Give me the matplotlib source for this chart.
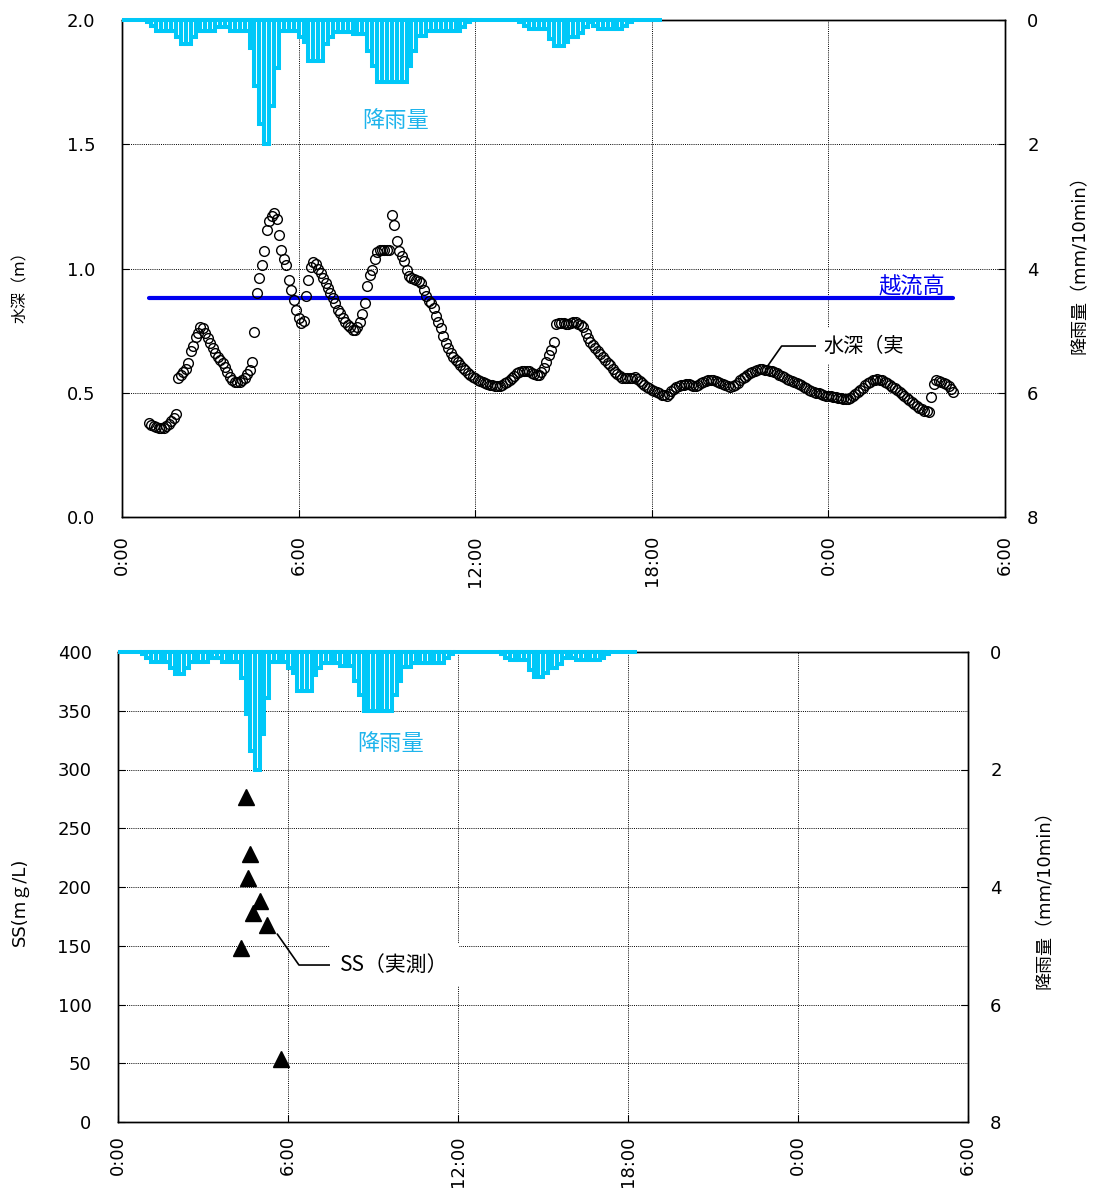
import numpy as np
import matplotlib
matplotlib.use('Agg')
import matplotlib.pyplot as plt

plt.rcParams['font.family'] = ['DejaVu Sans', 'Noto Sans CJK JP']
CJK = ['Noto Sans CJK JP', 'DejaVu Sans']

# ---------------- data ----------------
# rainfall (mm/10min), 10-minute bins starting at 0:00
rain = [0, 0, 0, 0, 0, 0.04, 0.1, 0.17, 0.17, 0.17,
        0.17, 0.28, 0.38, 0.38, 0.28, 0.17, 0.17, 0.17, 0.17, 0.11,
        0.11, 0.11, 0.17, 0.17, 0.17, 0.17, 0.45, 1.06, 1.68, 2.0,
        1.39, 0.78, 0.17, 0.17, 0.17, 0.17, 0.28, 0.35, 0.66, 0.66,
        0.66, 0.39, 0.28, 0.19, 0.19, 0.19, 0.19, 0.23, 0.23, 0.23,
        0.5, 0.74, 1.0, 1.0, 1.0, 1.0, 1.0, 1.0, 0.74, 0.5,
        0.26, 0.26, 0.18, 0.18, 0.18, 0.18, 0.18, 0.18, 0.18, 0.11,
        0.04, 0, 0, 0, 0, 0, 0, 0, 0, 0,
        0, 0.04, 0.1, 0.14, 0.14, 0.14, 0.14, 0.3, 0.42, 0.42,
        0.36, 0.28, 0.28, 0.21, 0.11, 0.04, 0.1, 0.14, 0.14, 0.14,
        0.14, 0.14, 0.1, 0.04, 0, 0, 0, 0, 0, 0]
rain_bin_min = 10

# measured water depth (m), every 5 minutes starting 0:55
depth_start_min = 55
depth = [
    0.378,
    0.372, 0.366, 0.362, 0.358, 0.357, 0.36, 0.367, 0.375, 0.386, 0.40, 0.415, 0.56,
    0.57, 0.585, 0.595, 0.62, 0.67, 0.69, 0.725, 0.74, 0.765, 0.76, 0.74, 0.72,
    0.70, 0.68, 0.66, 0.645, 0.63, 0.62, 0.605, 0.585, 0.565, 0.55, 0.545, 0.545,
    0.545, 0.55, 0.56, 0.575, 0.59, 0.625, 0.745, 0.90, 0.96, 1.015, 1.07, 1.155,
    1.19, 1.21, 1.225, 1.20, 1.135, 1.075, 1.04, 1.015, 0.955, 0.915, 0.875, 0.835,
    0.80, 0.78, 0.79, 0.89, 0.955, 1.005, 1.025, 1.02, 1.0, 0.98, 0.96, 0.94,
    0.92, 0.90, 0.88, 0.86, 0.835, 0.82, 0.80, 0.785, 0.772, 0.763, 0.752, 0.752,
    0.765, 0.785, 0.815, 0.86, 0.93, 0.975, 0.995, 1.04, 1.068, 1.075, 1.075, 1.075,
    1.075, 1.075, 1.215, 1.175, 1.11, 1.07, 1.05, 1.03, 0.995, 0.97, 0.96, 0.958,
    0.955, 0.95, 0.94, 0.915, 0.89, 0.87, 0.86, 0.84, 0.81, 0.785, 0.76, 0.73,
    0.70, 0.68, 0.66, 0.645, 0.633, 0.622, 0.61, 0.60, 0.59, 0.58, 0.572, 0.565,
    0.558, 0.552, 0.546, 0.542, 0.538, 0.535, 0.532, 0.53, 0.528, 0.527, 0.528, 0.531,
    0.538, 0.545, 0.552, 0.56, 0.568, 0.578, 0.585, 0.588, 0.589, 0.589, 0.588, 0.58,
    0.575, 0.572, 0.572, 0.585, 0.60, 0.625, 0.65, 0.672, 0.705, 0.775, 0.78, 0.782,
    0.78, 0.778, 0.777, 0.782, 0.786, 0.783, 0.777, 0.772, 0.765, 0.74, 0.722, 0.705,
    0.692, 0.68, 0.668, 0.655, 0.642, 0.632, 0.62, 0.61, 0.597, 0.585, 0.575, 0.566,
    0.56, 0.558, 0.558, 0.558, 0.56, 0.562, 0.555, 0.548, 0.54, 0.532, 0.525, 0.519,
    0.512, 0.507, 0.502, 0.497, 0.492, 0.489, 0.487, 0.495, 0.508, 0.515, 0.522, 0.527,
    0.53, 0.533, 0.537, 0.535, 0.53, 0.526, 0.527, 0.532, 0.538, 0.545, 0.548, 0.551,
    0.551, 0.55, 0.548, 0.545, 0.541, 0.537, 0.533, 0.528, 0.525, 0.526, 0.531, 0.54,
    0.551, 0.558, 0.565, 0.572, 0.578, 0.584, 0.588, 0.591, 0.594, 0.594, 0.592, 0.59,
    0.589, 0.587, 0.583, 0.578, 0.572, 0.567, 0.562, 0.557, 0.553, 0.548, 0.544, 0.54,
    0.537, 0.532, 0.525, 0.518, 0.513, 0.508, 0.504, 0.5, 0.497, 0.494, 0.491, 0.488,
    0.486, 0.485, 0.483, 0.482, 0.48, 0.478, 0.476, 0.474, 0.476, 0.48, 0.487, 0.495,
    0.503, 0.511, 0.52, 0.53, 0.538, 0.544, 0.55, 0.553, 0.554, 0.553, 0.55, 0.545,
    0.54, 0.533, 0.525, 0.518, 0.51, 0.502, 0.494, 0.485, 0.477, 0.47, 0.462, 0.455,
    0.448, 0.44, 0.434, 0.428, 0.426, 0.424, 0.482, 0.535, 0.55, 0.548, 0.545, 0.54,
    0.537, 0.528, 0.515, 0.503,
]
weir_level = 0.88   # 越流高 (m)

# SS measured
ss_times = ['4:20', '4:30', '4:35', '4:40', '4:45', '5:00', '5:15', '5:45']
ss_values = [148, 277, 208, 228, 178, 188, 168, 54]

xtick_hours = [0, 6, 12, 18, 24, 30]
xtick_labels = ['0:00', '6:00', '12:00', '18:00', '0:00', '6:00']

# ---------------- derived ----------------
rain_t = np.arange(len(rain)) * rain_bin_min / 60.0
depth_t = (depth_start_min + 5 * np.arange(len(depth))) / 60.0
ss_t = [int(s.split(':')[0]) + int(s.split(':')[1]) / 60.0 for s in ss_times]

RAIN_C = '#00C8F8'
RAIN_TXT = '#1EB4EC'
W, H = 1099, 1196

fig = plt.figure(figsize=(W / 100, H / 100), dpi=100)


def frac(l, t, r, b):
    return [l / W, 1 - b / H, (r - l) / W, (b - t) / H]


grid_kw = dict(color='black', linestyle=(0, (1, 1.2)), linewidth=0.7)


def rain_axis(ax, rpad):
    ax2 = ax.twinx()
    ax2.bar(rain_t, rain, width=rain_bin_min / 60.0, align='edge',
            facecolor='white', edgecolor=RAIN_C, linewidth=2.9,
            clip_on=False, zorder=3)
    ax2.set_ylim(8, 0)
    ax2.set_yticks([0, 2, 4, 6, 8])
    ax2.tick_params(axis='y', direction='in', length=5, pad=rpad, labelsize=13)
    ax2.set_xlim(0, 30)
    return ax2


# ---------------- top chart ----------------
ax1 = fig.add_axes(frac(122, 20, 1005, 517))
ax1.set_xlim(0, 30)
ax1.set_ylim(0, 2.0)
ax1.set_yticks([0, 0.5, 1.0, 1.5, 2.0])
ax1.set_yticklabels(['%.1f' % v for v in [0, 0.5, 1.0, 1.5, 2.0]])
ax1.set_xticks(xtick_hours)
ax1.set_xticklabels(xtick_labels, rotation=90)
ax1.tick_params(axis='y', direction='in', length=5, pad=19, labelsize=13)
ax1.tick_params(axis='x', direction='in', length=5, pad=13, labelsize=13)
ax1.grid(True, **grid_kw)

ax1.plot([depth_t[0], depth_t[-1]], [weir_level, weir_level],
         color='#0000F0', linewidth=3.0, solid_capstyle='round', zorder=3)
ax1.plot(depth_t, depth, linestyle='none', marker='o', markersize=7.0,
         markerfacecolor='none', markeredgecolor='black', markeredgewidth=1.0,
         zorder=4)

ax1.text(0.3103, 0.7968, '降雨量', transform=ax1.transAxes, ha='center',
         va='center', fontsize=16, color=RAIN_TXT, family=CJK)
ax1.text(0.8947, 0.4628, '越流高', transform=ax1.transAxes, ha='center',
         va='center', fontsize=16, color='#0000F0', family=CJK)
ax1.annotate('水深（実', xy=(21.95, 0.61), xytext=(23.82, 0.688),
             ha='left', va='center', fontsize=14.5, family=CJK, zorder=5,
             bbox=dict(boxstyle='square,pad=0.35', fc='white', ec='none'),
             arrowprops=dict(arrowstyle='-', color='black', lw=1.2,
                             shrinkA=0, shrinkB=0,
                             connectionstyle='angle,angleA=0,angleB=55,rad=0'))

ax2 = rain_axis(ax1, 16)

# ---------------- bottom chart ----------------
ax3 = fig.add_axes(frac(118, 652, 968, 1122))
ax3.set_xlim(0, 30)
ax3.set_ylim(0, 400)
ax3.set_yticks(range(0, 401, 50))
ax3.set_xticks(xtick_hours)
ax3.set_xticklabels(xtick_labels, rotation=90)
ax3.tick_params(axis='y', direction='in', length=5, pad=19, labelsize=13)
ax3.tick_params(axis='x', direction='in', length=5, pad=9.5, labelsize=13)
ax3.grid(True, **grid_kw)

ax3.plot(ss_t, ss_values, linestyle='none', marker='^', markersize=11,
         color='black', zorder=4)
ax3.text(0.3212, 0.8043, '降雨量', transform=ax3.transAxes, ha='center',
         va='center', fontsize=16, color=RAIN_TXT, family=CJK)
ax3.annotate('SS（実測）', xy=(5.62, 160), xytext=(7.84, 133.6),
             ha='left', va='center', fontsize=15, family=CJK, zorder=5,
             bbox=dict(boxstyle='square,pad=0.5', fc='white', ec='none'),
             arrowprops=dict(arrowstyle='-', color='black', lw=1.2,
                             shrinkA=0, shrinkB=0,
                             connectionstyle='angle,angleA=0,angleB=-55,rad=0'))

ax4 = rain_axis(ax3, 16)

for ax in (ax1, ax2, ax3, ax4):
    for s in ax.spines.values():
        s.set_linewidth(1.0)

# ---------------- axis titles ----------------
fig.text(20 / W, 1 - 283 / H, '水深（m）', rotation=90, ha='center',
         va='center', fontsize=11.5)
fig.text(1080 / W, 1 - 260 / H, '降雨量（mm/10min）', rotation=90,
         ha='center', va='center', fontsize=13)
fig.text(20 / W, 1 - 902 / H, 'SS(mｇ/L)', rotation=90, ha='center',
         va='center', fontsize=13)
fig.text(1045 / W, 1 - 895 / H, '降雨量（mm/10min）', rotation=90,
         ha='center', va='center', fontsize=13)

fig.savefig('out.png', dpi=100)
